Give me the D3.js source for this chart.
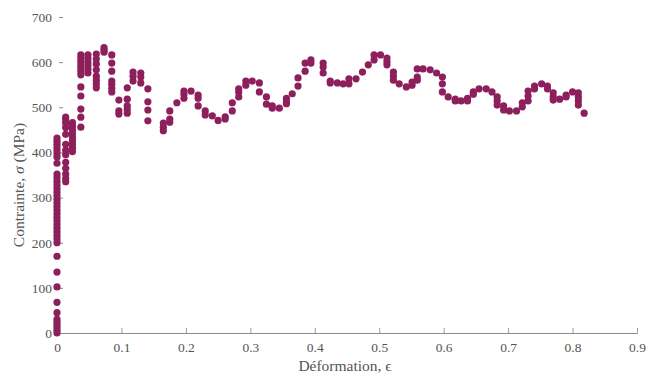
<!DOCTYPE html>
<html>
<head>
<meta charset="utf-8">
<script src="https://cdn.jsdelivr.net/npm/d3@7"></script>
<style>
  html, body { margin: 0; padding: 0; background: #fff; }
  svg { display: block; }
  text { font-family: "Liberation Serif", "DejaVu Serif", serif; fill: #555; }
</style>
</head>
<body>
<svg id="chart" width="646" height="376"></svg>
<script>
// ---- data ----
const strainColumns = [
  0.000, 0.0135, 0.024, 0.037, 0.048, 0.061, 0.073, 0.085, 0.096, 0.109,
  0.118, 0.130, 0.141, 0.165, 0.175, 0.186, 0.197, 0.208, 0.219, 0.230,
  0.241, 0.250, 0.261, 0.272, 0.282, 0.293, 0.303, 0.314, 0.325, 0.334,
  0.345, 0.356, 0.365, 0.374, 0.385, 0.394, 0.413, 0.424, 0.435, 0.444,
  0.453, 0.464, 0.474, 0.483, 0.492, 0.502, 0.512, 0.522, 0.531, 0.542,
  0.551, 0.559, 0.568, 0.579, 0.589, 0.598, 0.607, 0.618, 0.627, 0.637,
  0.646, 0.655, 0.666, 0.675, 0.683, 0.693, 0.702, 0.713, 0.722, 0.731,
  0.741, 0.752, 0.761, 0.770, 0.780, 0.790, 0.800, 0.809, 0.818
];
const stressColumns = [
  [0, 6, 12, 18, 24, 30, 45, 68, 102, 135, 170, 200, 208, 216, 224, 232, 240, 248, 256, 264,
   272, 280, 288, 296, 304, 312, 320, 328, 336, 344, 352, 376, 390, 397, 404, 411, 418, 425, 432],
  [335, 342, 352, 365, 378, 395, 405, 418, 440, 455, 465, 472, 478],
  [402, 410, 418, 426, 434, 442, 450, 458, 466],
  [616, 609, 602, 595, 588, 580, 572, 545, 525, 496, 478, 456],
  [616, 608, 600, 592, 584, 576],
  [618, 607, 596, 583, 569, 560, 552, 543],
  [632, 627, 622],
  [616, 598, 580, 558, 551, 542, 534],
  [516, 492, 485],
  [543, 518, 503, 495, 487],
  [578, 569, 558],
  [576, 567, 554],
  [541, 512, 494, 470],
  [465, 456, 448],
  [492, 474, 467],
  [510],
  [536, 529, 520],
  [536],
  [527, 520, 503],
  [492, 483],
  [481],
  [471],
  [479, 474],
  [510, 492],
  [541, 534, 523],
  [558, 549],
  [558],
  [554, 534],
  [523, 507],
  [503, 498],
  [498],
  [520, 512, 508],
  [530],
  [565, 547],
  [598, 580],
  [605, 598],
  [598, 589, 576],
  [558, 554],
  [554],
  [552],
  [563, 552],
  [563],
  [578],
  [594],
  [616, 605],
  [616],
  [609, 601, 594],
  [578, 569, 560],
  [552],
  [545],
  [556, 549],
  [585, 567, 560],
  [585],
  [583],
  [576],
  [567, 552, 534],
  [523],
  [518, 514],
  [514],
  [520, 514],
  [534, 529],
  [541],
  [541],
  [534],
  [523, 514, 505],
  [503, 494],
  [492],
  [492],
  [510, 501],
  [536, 525, 514],
  [547, 541],
  [552],
  [547, 541],
  [532, 523, 516],
  [518],
  [527, 523],
  [534],
  [532, 523, 514, 505],
  [487]
];
const xTicks = [0, 0.1, 0.2, 0.3, 0.4, 0.5, 0.6, 0.7, 0.8, 0.9];
const yTicks = [0, 100, 200, 300, 400, 500, 600, 700];

// ---- build point table ----
const points = [];
strainColumns.forEach((e, i) => {
  stressColumns[i].forEach(s => points.push({ strain: e, stress: s }));
});

// ---- layout ----
const FONT = "'Liberation Serif', 'DejaVu Serif', serif";
const svg = d3.select("#chart");
const x = d3.scaleLinear().domain([0, 0.9]).range([57, 637]);
const y = d3.scaleLinear().domain([0, 700]).range([333, 17]);

// x axis
const xAxis = d3.axisBottom(x)
  .tickValues(xTicks)
  .tickFormat(d => d === 0 ? "0" : d3.format(".1f")(d))
  .tickSizeInner(-5).tickSizeOuter(0).tickPadding(9);
const gx = svg.append("g").attr("transform", `translate(0,${y(0)})`).call(xAxis)
  .attr("font-family", FONT).attr("font-size", 13.5);
gx.select(".domain").attr("stroke", "#8a8a8a");
gx.selectAll(".tick line").attr("stroke", "#9a9a9a");
gx.selectAll(".tick text").attr("fill", "#666").style("font-family", FONT);

// y axis
const yAxis = d3.axisLeft(y)
  .tickValues(yTicks)
  .tickFormat(d3.format("d"))
  .tickSizeInner(0).tickSizeOuter(0).tickPadding(5);
const gy = svg.append("g").attr("transform", `translate(${x(0)},0)`).call(yAxis)
  .attr("font-family", FONT).attr("font-size", 13.5);
gy.select(".domain").remove();
gy.selectAll(".tick text").attr("fill", "#666").style("font-family", FONT);
gy.selectAll(".tick").append("line")
  .attr("x1", 2).attr("x2", 6).attr("y1", 0).attr("y2", 0)
  .attr("stroke", "#8a8a8a");

// points
svg.append("g").selectAll("circle")
  .data(points)
  .join("circle")
  .attr("cx", d => x(d.strain))
  .attr("cy", d => y(d.stress))
  .attr("r", 3.6)
  .attr("fill", "#8c1f5c");

// axis titles
svg.append("text")
  .attr("x", (x(0) + x(0.9)) / 2 - 2)
  .attr("y", 371)
  .attr("text-anchor", "middle")
  .attr("font-size", 15.5)
  .attr("fill", "#555")
  .style("font-family", FONT)
  .text("Déformation, ϵ");

const yt = svg.append("text")
  .attr("transform", `translate(24,${(y(0) + y(700)) / 2 + 10}) rotate(-90)`)
  .attr("text-anchor", "middle")
  .attr("font-size", 15.5)
  .attr("fill", "#555")
  .style("font-family", FONT);
yt.append("tspan").text("Contrainte, ");
yt.append("tspan").attr("font-style", "italic").text("σ");
yt.append("tspan").text(" (MPa)");
</script>
</body>
</html>
